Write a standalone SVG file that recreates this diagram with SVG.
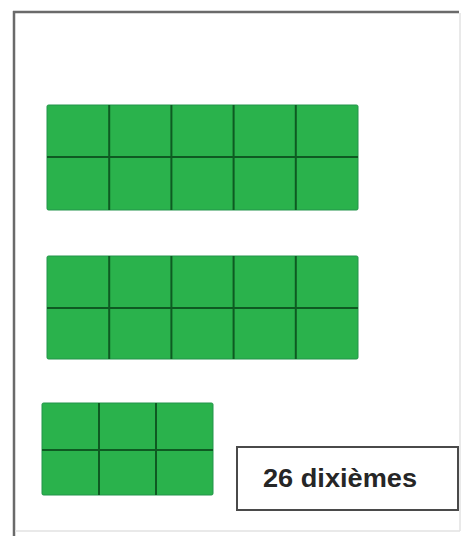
<svg xmlns="http://www.w3.org/2000/svg" width="464" height="536" viewBox="0 0 464 536">
<style>
.blk{fill:#2ab24c;stroke:#23944a;stroke-width:1}
.grid{stroke:#0e5a22;stroke-width:2;fill:none}
.lbl{fill:#ffffff;stroke:#4a4a4a;stroke-width:2}
.txt{font-family:"Liberation Sans",Arial,sans-serif;font-size:25px;font-weight:bold;fill:#262626}
</style>
<rect width="464" height="536" fill="#ffffff"/>
<g id="frame">
<line x1="13" y1="12" x2="459" y2="12" stroke="#6a6a6a" stroke-width="2.5"/>
<line x1="14" y1="11" x2="14" y2="536" stroke="#6a6a6a" stroke-width="2.5"/>
<line x1="460" y1="13" x2="460" y2="531" stroke="#e2e2e2" stroke-width="1.5"/>
<line x1="15" y1="531" x2="460" y2="531" stroke="#e2e2e2" stroke-width="1.5"/>
</g>
<g id="block1">
<rect class="blk" x="47" y="105" width="311" height="105" rx="1.5"/>
<path class="grid" d="M109.2 105V210M171.4 105V210M233.6 105V210M295.8 105V210M47 157H358"/>
</g>
<g id="block2">
<rect class="blk" x="47" y="256" width="311" height="103" rx="1.5"/>
<path class="grid" d="M109.2 256V359M171.4 256V359M233.6 256V359M295.8 256V359M47 308H358"/>
</g>
<g id="block3">
<rect class="blk" x="42" y="403" width="171" height="92" rx="1.5"/>
<path class="grid" d="M99 403V495M156 403V495M42 450H213"/>
</g>
<g id="label">
<rect class="lbl" x="237" y="447" width="221" height="63"/>
<text class="txt" x="263" y="487" textLength="154" lengthAdjust="spacingAndGlyphs">26 dixièmes</text>
</g>
<g id="connectors"/>
</svg>
